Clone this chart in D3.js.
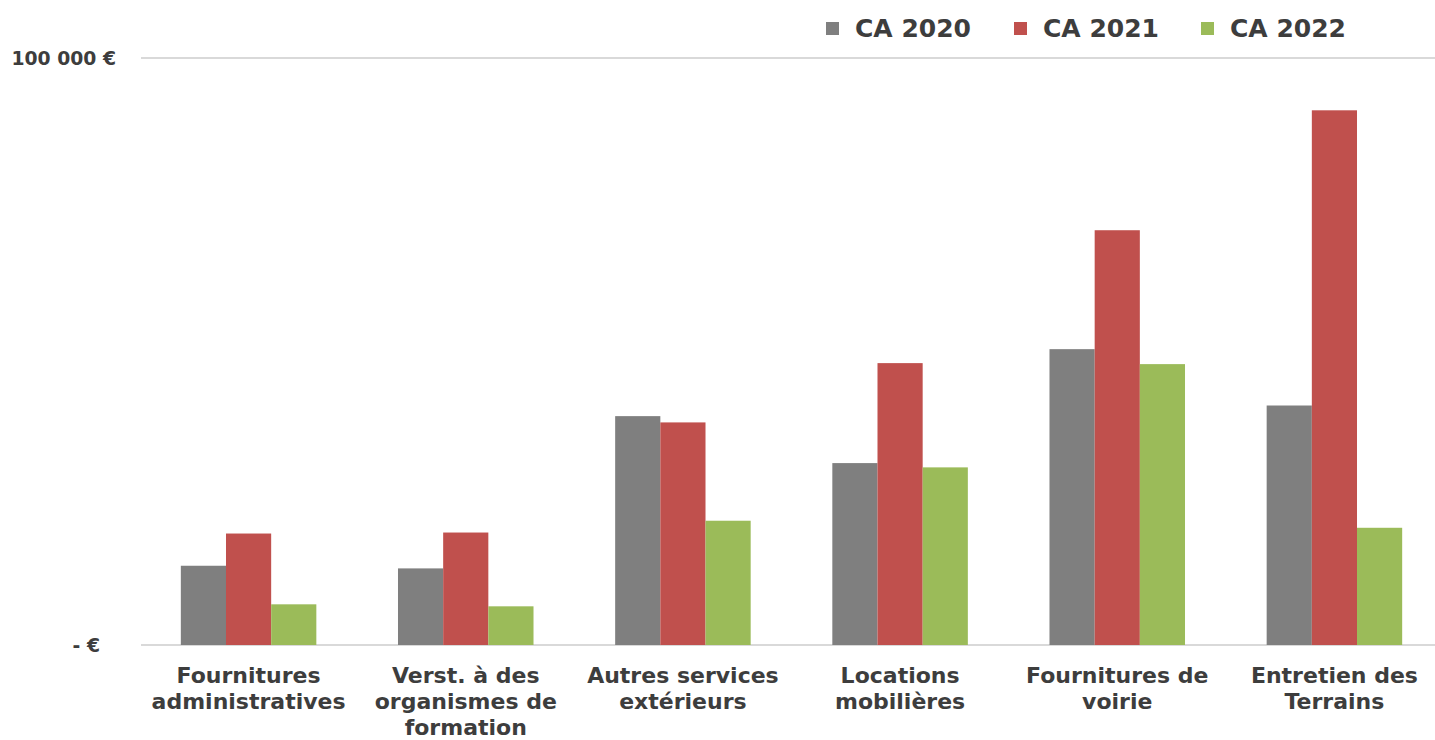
<!DOCTYPE html>
<html>
<head>
<meta charset="utf-8">
<script src="https://cdn.jsdelivr.net/npm/d3@7"></script>
<style>
  body { margin: 0; background: #fff; }
  text { font-family: "DejaVu Sans", Verdana, sans-serif; font-weight: bold; fill: #3d3d3d; }
</style>
</head>
<body>
<svg id="chart"></svg>
<script>
var width = 1435;
var height = 740;

// données
var categories = ["Fournitures\nadministratives", "Verst. à des\norganismes de\nformation",
    "Autres services\nextérieurs", "Locations\nmobilières", "Fournitures de\nvoirie", "Entretien des\nTerrains"];
var seriesNames = ["CA 2020", "CA 2021", "CA 2022"];
var ca2020 = [13500, 13050, 38990, 30990, 50400, 40800];
var ca2021 = [18990, 19160, 37920, 48020, 70660, 91090];
var ca2022 = [6930, 6590, 21170, 30260, 47850, 19970];
var yTicks = [0, 100000];
var colors = ["#7f7f7f", "#c0504d", "#9bbb59"];

var series = [ca2020, ca2021, ca2022];

var svg = d3.select("#chart")
    .attr("width", width)
    .attr("height", height);

// X Scale
var x0 = d3.scaleBand()
    .domain(d3.range(categories.length))
    .range([140, 1443])
    .paddingInner(0.376)
    .paddingOuter(0.188);

var x1 = d3.scaleBand()
    .domain(d3.range(seriesNames.length))
    .range([0, x0.bandwidth()]);

// Y Scale
var y = d3.scaleLinear()
    .domain([0, 100000])
    .range([645, 58]);

// gridlines
svg.append("g")
    .selectAll("line")
    .data(yTicks)
    .join("line")
    .attr("x1", 141)
    .attr("x2", width)
    .attr("y1", function (d) { return y(d); })
    .attr("y2", function (d) { return y(d); })
    .attr("stroke", "#d9d9d9")
    .attr("stroke-width", 2);

// Y axis labels
var y_axis = d3.axisLeft(y)
    .tickValues(yTicks)
    .tickSize(0)
    .tickPadding(0)
    .tickFormat(function (d) { return d === 0 ? "- €" : d3.format(",")(d).replace(/,/g, " ") + " €"; });

var yg = svg.append("g")
    .attr("transform", "translate(116,0)")
    .call(y_axis);
yg.select(".domain").remove();
yg.selectAll("text")
    .style("font-size", "18.8px")
    .attr("fill", "#3d3d3d")
    .attr("dx", function (d) { return d === 0 ? -16 : 0; });

// bars
var groups = svg.append("g")
    .selectAll("g")
    .data(categories)
    .join("g")
    .attr("transform", function (d, i) { return "translate(" + x0(i) + ",0)"; });

groups.selectAll("rect")
    .data(function (d, i) { return series.map(function (s, k) { return { k: k, v: s[i] }; }); })
    .join("rect")
    .attr("x", function (d) { return x1(d.k); })
    .attr("width", x1.bandwidth())
    .attr("y", function (d) { return y(d.v); })
    .attr("height", function (d) { return y(0) - y(d.v); })
    .attr("fill", function (d) { return colors[d.k]; });

// category labels
var labels = svg.append("g")
    .selectAll("text")
    .data(categories)
    .join("text")
    .attr("text-anchor", "middle")
    .style("font-size", "22px")
    .attr("transform", function (d, i) { return "translate(" + (x0(i) + x0.bandwidth() / 2) + ",683)"; });

labels.selectAll("tspan")
    .data(function (d) { return d.split("\n"); })
    .join("tspan")
    .attr("x", 0)
    .attr("y", function (d, i) { return i * 26; })
    .text(function (d) { return d; });

// legend
var legendX = [826, 1014, 1201];
var legend = svg.append("g")
    .selectAll("g")
    .data(seriesNames)
    .join("g")
    .attr("transform", function (d, i) { return "translate(" + legendX[i] + ",22)"; });

legend.append("rect")
    .attr("width", 13)
    .attr("height", 13)
    .attr("fill", function (d, i) { return colors[i]; });

legend.append("text")
    .attr("x", 29)
    .attr("y", 15)
    .style("font-size", "25px")
    .text(function (d) { return d; });
</script>
</body>
</html>
